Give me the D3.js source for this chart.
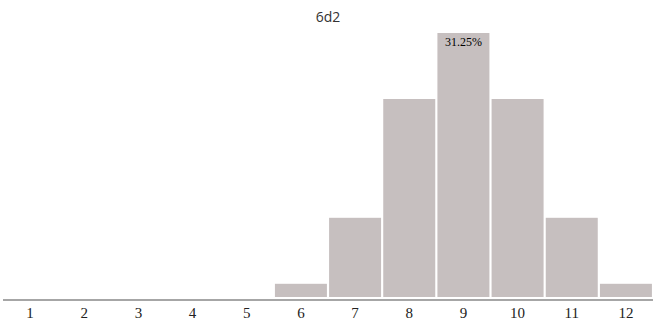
<!DOCTYPE html>
<html>
<head>
<meta charset="utf-8">
<script src="https://d3js.org/d3.v7.min.js"></script>
<style>
body { margin: 0; background: #fff; }
</style>
</head>
<body>
<script>
// 6d2 的分布
var title = "6d2";
var sums = [1, 2, 3, 4, 5, 6, 7, 8, 9, 10, 11, 12];
var probs = [0, 0, 0, 0, 0, 1/64, 6/64, 15/64, 20/64, 15/64, 6/64, 1/64];

var w = 659;
var h = 327;

var svg = d3.select("body")
	.append("svg")
	.attr("width", w)
	.attr("height", h);

var xScale = d3.scaleBand()
	.domain(sums)
	.range([3, 653])
	.paddingInner(0.04)
	.paddingOuter(0.02);

var yScale = d3.scaleLinear()
	.domain([0, d3.max(probs)])
	.range([297, 33]);

// 标题
svg.append("text")
	.attr("x", 328)
	.attr("y", 22)
	.attr("text-anchor", "middle")
	.attr("font-family", "'Open Sans', sans-serif")
	.attr("font-size", "14px")
	.attr("fill", "#333")
	.text(title);

// bars
svg.selectAll("rect")
	.data(probs)
	.enter()
	.append("rect")
	.attr("x", function(d, i) { return xScale(sums[i]); })
	.attr("y", function(d) { return yScale(d); })
	.attr("width", xScale.bandwidth())
	.attr("height", function(d) { return 297 - yScale(d); })
	.attr("fill", "#c6bfbf");

// 最大值标签
var maxV = d3.max(probs);
var maxI = probs.indexOf(maxV);
svg.append("text")
	.attr("x", xScale(sums[maxI]) + xScale.bandwidth() / 2)
	.attr("y", yScale(maxV) + 13)
	.attr("text-anchor", "middle")
	.attr("font-family", "'Liberation Serif', serif")
	.attr("font-size", "12px")
	.attr("fill", "#000")
	.text(d3.format(".2%")(maxV));

// x 轴
var xAxis = d3.axisBottom(xScale).tickSize(0).tickPadding(7);
var gx = svg.append("g")
	.attr("transform", "translate(0,300)")
	.call(xAxis);
gx.select(".domain")
	.attr("d", "M3,0H653")
	.attr("stroke", "#888")
	.attr("stroke-width", 1.5);
gx.selectAll("text")
	.attr("font-family", "'Liberation Serif', serif")
	.attr("font-size", "15px")
	.attr("fill", "#222");
</script>
</body>
</html>
